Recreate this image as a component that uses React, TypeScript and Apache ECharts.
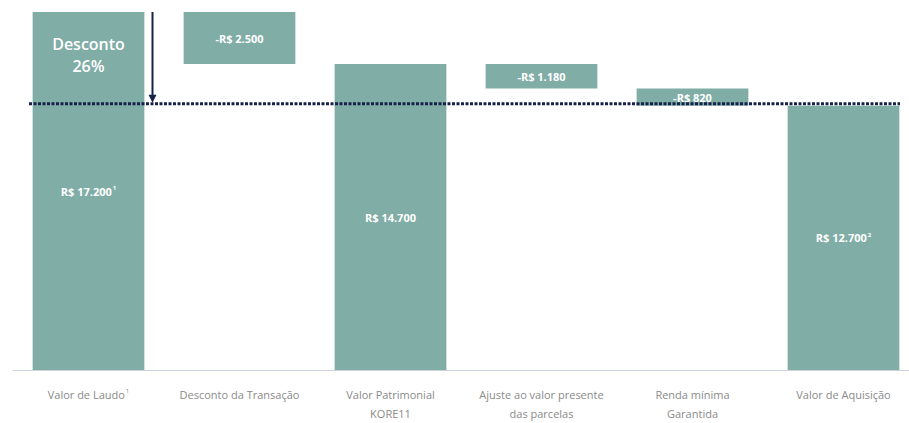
import React, { useEffect, useRef } from "react";
import * as echarts from "echarts";

const categories = [
  "Valor de Laudo",
  "Desconto da Transação",
  "Valor Patrimonial\nKORE11",
  "Ajuste ao valor presente\ndas parcelas",
  "Renda mínima\nGarantida",
  "Valor de Aquisição",
];
const categoryNotes = ["1", "", "", "", "", ""];
const amounts = [17200, -2500, 14700, -1180, -820, 12700];
const isTotal = [true, false, true, false, false, true];
const valueLabels = ["R$ 17.200", "-R$ 2.500", "R$ 14.700", "-R$ 1.180", "-R$ 820", "R$ 12.700"];
const valueNotes = ["1", "", "", "", "", "2"];
const discountText = ["Desconto", "26%"];
const discountFrom = 17200;
const discountTo = 12700;

const BAR = "#80ada6";
const NAVY = "#16224a";
const FONT = "'Open Sans', 'Noto Sans', sans-serif";

export default function App() {
  const ref = useRef<HTMLDivElement>(null);
  useEffect(() => {
    if (!ref.current) return;
    const chart = echarts.init(ref.current, null, { renderer: "svg" });

    let running = 0;
    const bases: number[] = [];
    const heights: number[] = [];
    amounts.forEach((a, i) => {
      if (isTotal[i]) {
        bases.push(0);
        heights.push(a);
        running = a;
      } else {
        running = running + a;
        bases.push(running);
        heights.push(-a);
      }
    });

    chart.setOption({
      animation: false,
      grid: { left: 13, width: 906, top: 12, bottom: 52 },
      xAxis: {
        type: "category",
        data: categories,
        axisTick: { show: false },
        axisLine: { lineStyle: { color: "#cdd3de", width: 1 } },
        axisLabel: {
          interval: 0,
          margin: 15,
          color: "#8a8a8a",
          fontFamily: FONT,
          fontSize: 11,
          lineHeight: 19,
          formatter: (v: string, i: number) =>
            categoryNotes[i] ? `${v}{sup|${categoryNotes[i]}}` : v,
          rich: {
            sup: { fontSize: 6, color: "#8a8a8a", lineHeight: 19, padding: [0, 0, 7, 1] },
          },
        },
      },
      yAxis: { type: "value", min: 0, max: 17200, show: false, splitLine: { show: false } },
      series: [
        {
          type: "bar",
          stack: "w",
          data: bases,
          itemStyle: { color: "transparent" },
          silent: true,
          barWidth: "74%",
        },
        {
          type: "bar",
          stack: "w",
          data: heights,
          barWidth: "74%",
          itemStyle: { color: BAR },
          label: {
            show: true,
            position: "inside",
            color: "#ffffff",
            fontFamily: FONT,
            fontWeight: "bold",
            fontSize: 11,
            formatter: (p: any) =>
              valueNotes[p.dataIndex]
                ? `${valueLabels[p.dataIndex]}{sup|${valueNotes[p.dataIndex]}}`
                : valueLabels[p.dataIndex],
            rich: {
              sup: { fontSize: 6, verticalAlign: "top", color: "#ffffff", padding: [0, 0, 6, 1] },
            },
          },
        },
      ],
    });

    const x0 = chart.convertToPixel({ xAxisIndex: 0 }, categories[0]) as number;
    const yTop = chart.convertToPixel({ yAxisIndex: 0 }, discountFrom) as number;
    const yLine = chart.convertToPixel({ yAxisIndex: 0 }, discountTo) as number;
    const arrowX = x0 + 64;

    chart.setOption({
      graphic: [
        {
          type: "line",
          shape: { x1: 29, y1: yLine - 2, x2: 900, y2: yLine - 2 },
          style: { stroke: NAVY, lineWidth: 3, lineDash: [3, 1.5] },
          z: 10,
        },
        {
          type: "line",
          shape: { x1: arrowX, y1: yTop, x2: arrowX, y2: yLine - 10 },
          style: { stroke: NAVY, lineWidth: 2 },
          z: 10,
        },
        {
          type: "polygon",
          shape: {
            points: [
              [arrowX - 4, yLine - 11],
              [arrowX + 4, yLine - 11],
              [arrowX, yLine - 3],
            ],
          },
          style: { fill: NAVY },
          z: 10,
        },
        {
          type: "text",
          x: x0,
          y: yTop + 21,
          style: {
            text: discountText.join("\n"),
            fill: "#ffffff",
            font: `600 16px ${FONT}`,
            lineHeight: 22,
            align: "center",
            verticalAlign: "top",
          },
          z: 10,
        },
      ],
    });

    return () => chart.dispose();
  }, []);
  return (
    <div
      ref={ref}
      style={{ position: "fixed", left: 0, top: 0, width: 930, height: 423, background: "#fff" }}
    />
  );
}
